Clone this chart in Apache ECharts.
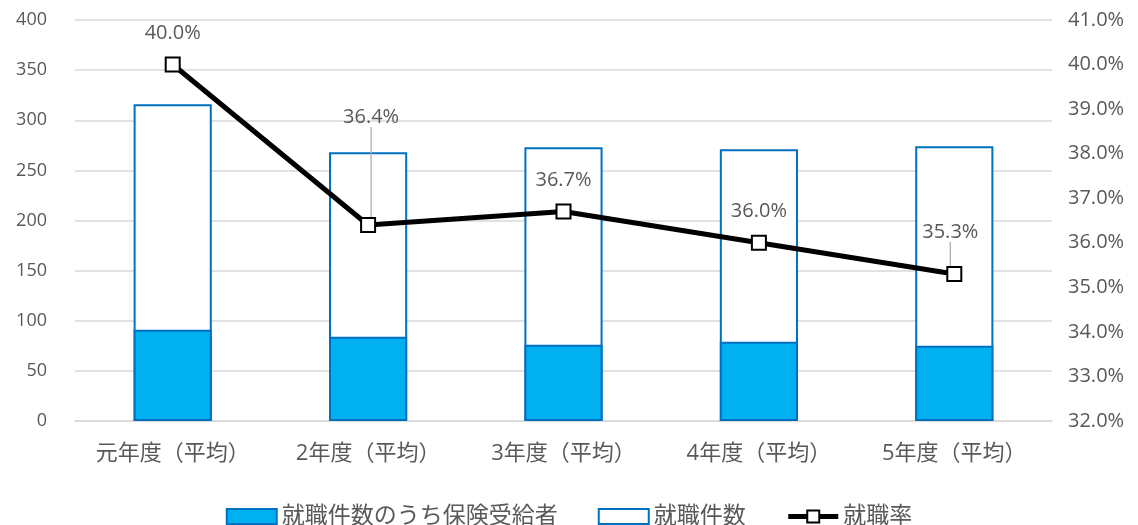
<!DOCTYPE html>
<html>
<head>
<meta charset="utf-8">
<script src="https://cdn.jsdelivr.net/npm/echarts@6/dist/echarts.min.js"></script>
<style>
  html, body { margin: 0; padding: 0; background: #fff; }
  #chart { width: 1138px; height: 525px; }
</style>
</head>
<body>
<div id="chart"></div>
<script>
const categories = ["元年度（平均）", "2年度（平均）", "3年度（平均）", "4年度（平均）", "5年度（平均）"]
const insuredHires = [91, 84, 76, 79, 75]
const totalHires = [316, 268, 273, 271, 274]
const hireRate = [40.0, 36.4, 36.7, 36.0, 35.3]
const leftTicks = { min: 0, max: 400, interval: 50 }
const rightTicks = { min: 32, max: 41, interval: 1 }

const font = "'Open Sans', 'Noto Sans CJK JP', sans-serif"
const textColor = "#595959"

const chart = echarts.init(document.getElementById("chart"))

// labels that Excel pulled away from their points, with a leader line
const movedLabels = { 1: { dx: 3, dy: -77 }, 4: { dx: -4, dy: -11 } }

chart.setOption({
  animation: false,
  textStyle: { fontFamily: font },
  grid: { left: 75, right: 86, top: 20, bottom: 104 },
  legend: {
    top: 500,
    left: "center",
    itemGap: 40,
    itemWidth: 50,
    itemHeight: 15,
    textStyle: { fontSize: 23, color: textColor, fontFamily: font },
    data: [
      { name: "就職件数のうち保険受給者", icon: "rect" },
      { name: "就職件数", icon: "rect" },
      { name: "就職率", lineStyle: { width: 5, color: "#000000" } }
    ]
  },
  xAxis: {
    type: "category",
    data: categories,
    axisTick: { show: false },
    axisLine: { lineStyle: { color: "#d9d9d9", width: 1.5 } },
    axisLabel: { color: textColor, fontSize: 22, margin: 22, interval: 0, fontFamily: font }
  },
  yAxis: [
    {
      type: "value",
      min: leftTicks.min,
      max: leftTicks.max,
      interval: leftTicks.interval,
      axisLine: { show: false },
      axisTick: { show: false },
      splitLine: { lineStyle: { color: "#d9d9d9", width: 1.5 } },
      axisLabel: { color: textColor, fontSize: 18, margin: 28, fontFamily: font }
    },
    {
      type: "value",
      min: rightTicks.min,
      max: rightTicks.max,
      interval: rightTicks.interval,
      axisLine: { show: false },
      axisTick: { show: false },
      splitLine: { show: false },
      axisLabel: {
        color: textColor, fontSize: 20, margin: 16, fontFamily: font,
        formatter: v => v.toFixed(1) + "%"
      }
    }
  ],
  series: [
    {
      name: "就職件数",
      type: "bar",
      barWidth: "40%",
      barGap: "-100%",
      data: totalHires,
      itemStyle: { color: "#ffffff", borderColor: "#0070C0", borderWidth: 2 }
    },
    {
      name: "就職件数のうち保険受給者",
      type: "bar",
      barWidth: "40%",
      barGap: "-100%",
      data: insuredHires,
      itemStyle: { color: "#00B0F0", borderColor: "#0070C0", borderWidth: 2 }
    },
    {
      name: "就職率",
      type: "line",
      yAxisIndex: 1,
      z: 5,
      symbol: "rect",
      symbolSize: 14,
      lineStyle: { color: "#000000", width: 5 },
      itemStyle: { color: "#ffffff", borderColor: "#000000", borderWidth: 2 },
      label: {
        show: true,
        position: "top",
        distance: 13,
        color: textColor,
        fontSize: 20,
        fontFamily: font,
        formatter: p => p.value.toFixed(1) + "%"
      },
      labelLayout: p => movedLabels[p.dataIndex] || {},
      data: hireRate.map((v, i) => movedLabels[i]
        ? { value: v, labelLine: { show: true, lineStyle: { color: "#a6a6a6", width: 1.2 } } }
        : { value: v })
    }
  ]
})
</script>
</body>
</html>
